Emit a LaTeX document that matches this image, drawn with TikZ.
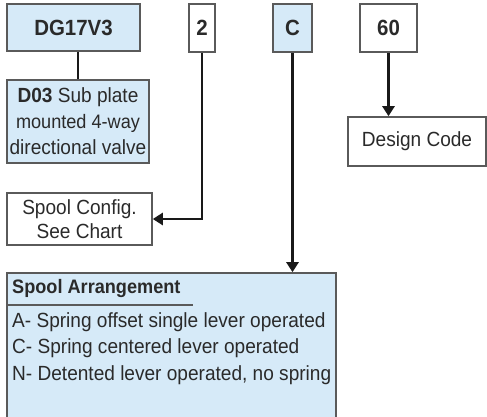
\documentclass[tikz,border=0pt]{standalone}
\usepackage{fontspec}
\setmainfont{Liberation Sans}[FakeStretch=0.93]
\usetikzlibrary{arrows.meta}
\definecolor{boxblue}{HTML}{D6EAF8}
\definecolor{boxline}{HTML}{5A5A5A}
\definecolor{ink}{HTML}{2A2A2A}
\tikzset{
  codebox/.style={draw=boxline, line width=1.6pt, inner sep=0pt, text=ink, align=center, font=\fontsize{22}{24}\selectfont\bfseries},
  descbox/.style={draw=boxline, line width=1.6pt, inner sep=0pt, text=ink, align=center, font=\fontsize{20.5}{24}\selectfont},
  conn/.style={line width=2.5pt, draw=black!90},
  tip/.style={-{Triangle[width=12pt,length=10pt]}},
  listtext/.style={anchor=west, inner sep=0pt, text=ink, font=\fontsize{20.5}{24}\selectfont}
}
\begin{document}
\begin{tikzpicture}[x=1pt,y=-1pt]
\useasboundingbox (0,0) rectangle (487,417);
% code boxes
\node[codebox, fill=boxblue, minimum width=133pt, minimum height=47pt] (dg) at (73.5,27.5) {DG17V3};
\node[codebox, fill=white, minimum width=26pt, minimum height=48pt] (two) at (202,28) {2};
\node[codebox, fill=boxblue, minimum width=39pt, minimum height=48pt] (cc) at (292.5,28) {C};
\node[codebox, fill=white, minimum width=57pt, minimum height=48pt] (sixty) at (388.5,28) {60};
% description boxes
\node[descbox, fill=boxblue, minimum width=142pt, minimum height=83pt, font=\fontsize{20.5}{26}\selectfont] (d03) at (78,121.5) {\textbf{D03} Sub plate\\{\fontsize{19.5}{26}\selectfont mounted 4-way}\\directional valve};
\node[descbox, fill=white, minimum width=145pt, minimum height=52pt] (cfg) at (79.5,219) {Spool Config.\\See Chart};
\node[descbox, fill=white, minimum width=138pt, minimum height=49pt] (design) at (417,141.5) {Design Code};
\node[draw=boxline, line width=1.6pt, fill=boxblue, inner sep=0pt, minimum width=329pt, minimum height=147pt] (arr) at (171.5,346.5) {};
% list texts
\node[listtext, font=\fontsize{19.5}{24}\selectfont\bfseries] (title) at (12,288) {Spool Arrangement};
\coordinate (ulA) at (7,305);
\coordinate (ulB) at (193,305);
\draw[line width=1.2pt, draw=boxline] (ulA) -- (ulB);
\node[listtext] (la) at (12,322) {A- Spring offset single lever operated};
\node[listtext] (lc) at (12,348.5) {C- Spring centered lever operated};
\node[listtext] (ln) at (12,375) {N- Detented lever operated, no spring};
% connectors
\draw[conn] (d03.north) -- (d03.north |- dg.south);
\draw[conn, tip] (two.south) |- (cfg.east);
\draw[conn, tip] (cc.south) -- (cc.south |- arr.north);
\draw[conn, tip] (sixty.south) -- (sixty.south |- design.north);
\end{tikzpicture}
\end{document}
